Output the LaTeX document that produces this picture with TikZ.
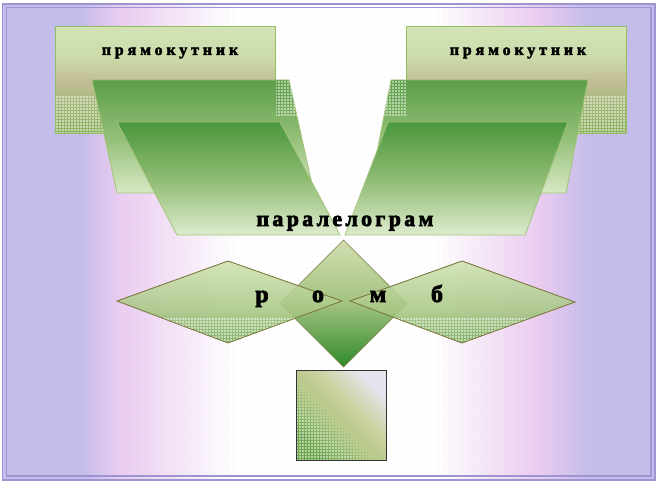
\documentclass[tikz,border=0pt]{standalone}
\usepackage{fontspec}
\setmainfont{Liberation Serif}
\newfontfamily\smallwa[LetterSpace=24,FakeBold=2.5]{Liberation Serif}
\newfontfamily\bigwa[LetterSpace=15,FakeBold=3]{Liberation Serif}
\newfontfamily\letwa[FakeBold=3]{Liberation Serif}
\usetikzlibrary{patterns.meta,fadings}

\definecolor{lavA}{HTML}{C4BCEA}
\definecolor{pinkA}{HTML}{EACCF0}
\definecolor{frameC}{HTML}{9D95D2}
\definecolor{rT}{HTML}{D3E3B6}
\definecolor{rT2}{HTML}{CADAA8}
\definecolor{rC}{HTML}{C4BE98}
\definecolor{rD}{HTML}{A9B97C}
\definecolor{rB}{HTML}{8DB262}
\definecolor{pT}{HTML}{5C9E4A}
\definecolor{pM}{HTML}{92BE76}
\definecolor{pB}{HTML}{D8E8C4}
\definecolor{fT}{HTML}{4A983C}
\definecolor{fM}{HTML}{8EBB72}
\definecolor{fB}{HTML}{DDEBCE}
\definecolor{dT}{HTML}{D2DEB0}
\definecolor{dM}{HTML}{A2C280}
\definecolor{dB}{HTML}{2E8A2A}
\definecolor{hT}{HTML}{CFE3B0}
\definecolor{hM}{HTML}{A9C886}
\definecolor{hB}{HTML}{72A852}
\definecolor{sBL}{HTML}{6CA64C}
\definecolor{sM}{HTML}{B2C684}
\definecolor{sM2}{HTML}{CDD2A2}
\definecolor{sTR}{HTML}{E6E4EE}
\definecolor{olive}{HTML}{7E7A40}
\definecolor{rectEdge}{HTML}{93C05E}
\definecolor{parEdge}{HTML}{A2C47A}

\pgfdeclarehorizontalshading{bgsh}{100bp}{color(0bp)=(lavA); color(25bp)=(lavA); color(31bp)=(lavA); color(34bp)=(pinkA); color(43bp)=(white); color(58bp)=(white); color(66bp)=(pinkA); color(70bp)=(lavA); color(75bp)=(lavA); color(100bp)=(lavA)}
\pgfdeclareverticalshading{rectsh}{100bp}{color(0bp)=(rB); color(25bp)=(rB); color(40bp)=(rD); color(50bp)=(rC); color(60bp)=(rT2); color(75bp)=(rT); color(100bp)=(rT)}
\pgfdeclareverticalshading{backsh}{100bp}{color(0bp)=(pB); color(25bp)=(pB); color(50bp)=(pM); color(75bp)=(pT); color(100bp)=(pT)}
\pgfdeclareverticalshading{frontsh}{100bp}{color(0bp)=(fB); color(25bp)=(fB); color(50bp)=(fM); color(75bp)=(fT); color(100bp)=(fT)}
\pgfdeclareverticalshading{diash}{100bp}{color(0bp)=(dB); color(25bp)=(dB); color(50bp)=(dM); color(75bp)=(dT); color(100bp)=(dT)}
\pgfdeclareverticalshading{rhsh}{100bp}{color(0bp)=(hB); color(25bp)=(hB); color(45bp)=(hM); color(75bp)=(hT); color(100bp)=(hT)}
\pgfdeclarehorizontalshading{sqsh}{100bp}{color(0bp)=(sBL); color(25bp)=(sBL); color(45bp)=(sM); color(58bp)=(sM2); color(75bp)=(sTR); color(100bp)=(sTR)}
\pgfdeclarehorizontalshading{sqfadesh}{100bp}{color(0bp)=(white); color(25bp)=(white); color(34bp)=(white); color(50bp)=(black); color(100bp)=(black)}
\pgfdeclarefading{sqfade}{\pgfuseshading{sqfadesh}}

\begin{document}
\begin{tikzpicture}[x=1pt,y=-1pt,
  dotfill/.style={pattern={Dots[distance=3pt,radius=0.8pt]},pattern color=white},
  rectbox/.style={shading=rectsh,draw=rectEdge,line width=1pt},
  backpar/.style={shading=backsh,draw=parEdge,line width=0.8pt},
  frontpar/.style={shading=frontsh,draw=parEdge,line width=0.8pt},
  rhomb/.style={shading=rhsh,draw=olive,line width=0.6pt},
  smalltxt/.style={font=\smallwa\bfseries\fontsize{16}{16}\selectfont,inner sep=0pt,anchor=base},
  bigtxt/.style={font=\bigwa\bfseries\fontsize{22}{22}\selectfont,inner sep=0pt,anchor=base},
  lettr/.style={font=\letwa\bfseries\fontsize{24}{24}\selectfont,inner sep=0pt,anchor=base}]
\useasboundingbox (0,0) rectangle (658,484);
% background
\fill[white] (0,0) rectangle (658,484);
\shade[shading=bgsh] (2.5,4) rectangle (655,480);
\fill[pattern={Dots[distance=6pt,radius=0.4pt]},pattern color=gray!45] (7,8) rectangle (650,475);
\draw[frameC,line width=1.2pt] (2.5,4) rectangle (655,480);
\draw[frameC,line width=1.2pt] (6.5,7.5) rectangle (651,476);

% left rectangle
\shade[rectbox] (55,27) rectangle (275,133);
\begin{scope}\clip (55,97) rectangle (275,133);
\fill[dotfill] (55,97) rectangle (275,133);\end{scope}
\draw[rectEdge,line width=1pt] (55,27) rectangle (275,133);
\node[smalltxt] (rectL) at (170,55) {прямокутник};
% right rectangle
\shade[rectbox] (406,27) rectangle (626,133);
\begin{scope}\clip (406,97) rectangle (626,133);
\fill[dotfill] (406,97) rectangle (626,133);\end{scope}
\draw[rectEdge,line width=1pt] (406,27) rectangle (626,133);
\node[smalltxt] (rectR) at (518,55) {прямокутник};

% back parallelograms
\shade[backpar] (92,80) -- (289,80) -- (314,193) -- (117,193) -- cycle;
\begin{scope}\clip (92,80) -- (289,80) -- (314,193) -- (117,193) -- cycle;
\fill[dotfill] (276,80) rectangle (300,117);\end{scope}
\shade[backpar] (391,80) -- (588,80) -- (566,193) -- (369,193) -- cycle;
\begin{scope}\clip (391,80) -- (588,80) -- (566,193) -- (369,193) -- cycle;
\fill[dotfill] (380,80) rectangle (406,117);\end{scope}
% front parallelograms
\shade[frontpar] (117,122) -- (280,122) -- (340,235) -- (177,235) -- cycle;
\shade[frontpar] (388,122) -- (568,122) -- (525,235) -- (345,235) -- cycle;
\node[bigtxt] (par) at (345,226) {паралелограм};

% central diamond
\shade[shading=diash,draw=olive,line width=0.6pt] (343.5,240) -- (407,303.5) -- (343.5,367) -- (280,303.5) -- cycle;
% side rhombi
\begin{scope}[fill opacity=0.88]
\shade[rhomb] (117,301) -- (228,261) -- (342,301) -- (228,343) -- cycle;
\shade[rhomb] (350,301) -- (462,261) -- (575,302) -- (462,343) -- cycle;
\end{scope}
\begin{scope}\clip (117,301) -- (228,261) -- (342,301) -- (228,343) -- cycle;
\fill[dotfill] (110,317) rectangle (345,345);\end{scope}
\begin{scope}\clip (350,301) -- (462,261) -- (575,302) -- (462,343) -- cycle;
\fill[dotfill] (345,317) rectangle (580,345);\end{scope}
\draw[olive,line width=0.6pt] (117,301) -- (228,261) -- (342,301) -- (228,343) -- cycle;
\draw[olive,line width=0.6pt] (350,301) -- (462,261) -- (575,302) -- (462,343) -- cycle;
\node[lettr] (l1) at (262,302) {р};
\node[lettr] (l2) at (318,302) {о};
\node[lettr] (l3) at (378,302) {м};
\node[lettr] (l4) at (437,302) {б};

% square
\shade[shading=sqsh,shading angle=45] (296,370) rectangle (386,460);
\fill[dotfill,path fading=sqfade,fading angle=45] (296,370) rectangle (386,460);
\draw[black!80,line width=1pt] (296,370) rectangle (386,460);
\end{tikzpicture}
\end{document}
